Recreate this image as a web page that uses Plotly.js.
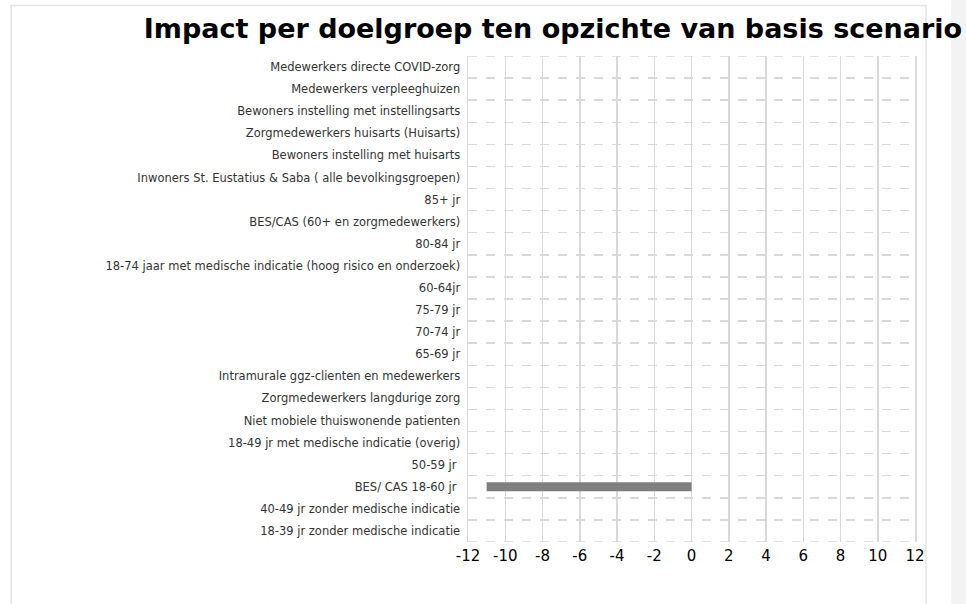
<!DOCTYPE html>
<html>
<head>
<meta charset="utf-8">
<script src="https://cdn.plot.ly/plotly-3.0.1.min.js"></script>
<style>html,body{margin:0;padding:0;background:#fff;}#chart{width:966px;height:604px;}</style>
</head>
<body>
<div id="chart"></div>
<script>
const categories = [
  "Medewerkers directe COVID-zorg",
  "Medewerkers verpleeghuizen",
  "Bewoners instelling met instellingsarts",
  "Zorgmedewerkers huisarts (Huisarts)",
  "Bewoners instelling met huisarts",
  "Inwoners St. Eustatius & Saba ( alle bevolkingsgroepen)",
  "85+ jr",
  "BES/CAS (60+ en zorgmedewerkers)",
  "80-84 jr",
  "18-74 jaar met medische indicatie (hoog risico en onderzoek)",
  "60-64jr",
  "75-79 jr",
  "70-74 jr",
  "65-69 jr",
  "Intramurale ggz-clienten en medewerkers",
  "Zorgmedewerkers langdurige zorg",
  "Niet mobiele thuiswonende patienten",
  "18-49 jr met medische indicatie (overig)",
  "50-59 jr ",
  "BES/ CAS 18-60 jr ",
  "40-49 jr zonder medische indicatie",
  "18-39 jr zonder medische indicatie"
];
const impact = [0,0,0,0,0,0,0,0,0,0,0,0,0,0,0,0,0,0,0,-11,0,0];
const xTicks = [-12,-10,-8,-6,-4,-2,0,2,4,6,8,10,12];
const titleText = "Impact per doelgroep ten opzichte van basis scenario";

const trace = {
  type: 'bar',
  orientation: 'h',
  x: impact,
  y: categories,
  marker: {color: '#7f7f7f'},
  hoverinfo: 'x+y'
};

const dashLine = (yv) => ({type: 'line', xref: 'paper', yref: 'y', x0: 0, x1: 1, y0: yv, y1: yv,
  line: {color: '#d9d9d9', width: 1.5, dash: 'dash'}, layer: 'below'});

const layout = {
  width: 966, height: 604,
  paper_bgcolor: '#ffffff', plot_bgcolor: '#ffffff',
  margin: {l: 468, r: 51, t: 56, b: 62},
  showlegend: false,
  bargap: 0.6,
  title: {
    text: '<b>' + titleText + '</b>',
    font: {family: 'DejaVu Sans', size: 27, color: '#000'},
    x: 0.996, xanchor: 'right', xref: 'container', y: 0.952, yanchor: 'middle'
  },
  xaxis: {
    range: [-12, 12],
    tickmode: 'array', tickvals: xTicks, ticktext: xTicks.map(String),
    showgrid: true, gridcolor: '#d9d9d9', gridwidth: 1.5,
    zeroline: false, showline: false, ticks: '', ticklabelstandoff: 3,
    tickfont: {family: 'DejaVu Sans', size: 15, color: '#000'},
    fixedrange: true
  },
  yaxis: {
    type: 'category',
    range: [21.5, -0.5],
    tickson: 'boundaries',
    showgrid: true, gridcolor: '#d9d9d9', gridwidth: 1.5, griddash: 'dash',
    showline: true, mirror: true, linecolor: '#d9d9d9', linewidth: 1.5,
    ticks: '', ticklabelstandoff: 4,
    tickfont: {family: 'DejaVu Sans', size: 11.5, color: '#333'},
    fixedrange: true
  },
  shapes: [
    {type: 'rect', xref: 'paper', yref: 'paper', x0: -1.022, x1: 1.0246, y0: -0.3, y1: 1.104,
     line: {color: '#e3e3e3', width: 1.5}, fillcolor: 'rgba(0,0,0,0)', layer: 'below'},
    {type: 'rect', xref: 'paper', yref: 'paper', x0: 1.0805, x1: 1.2, y0: -0.3, y1: 1.3,
     line: {width: 0}, fillcolor: '#f3f3f3', layer: 'below'},
    dashLine(-0.5), dashLine(21.5)
  ]
};

Plotly.newPlot('chart', [trace], layout, {displayModeBar: false, staticPlot: true});
</script>
</body>
</html>
